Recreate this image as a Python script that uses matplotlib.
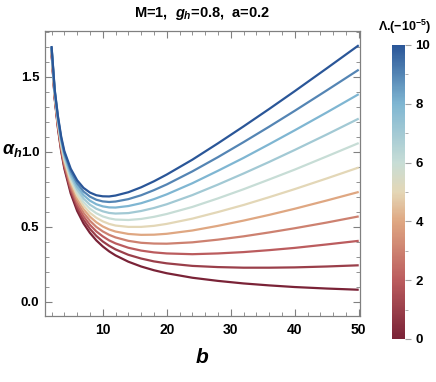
import matplotlib
matplotlib.use("Agg")
import matplotlib.pyplot as plt
from matplotlib.colors import LinearSegmentedColormap, Normalize
from matplotlib.cm import ScalarMappable
from matplotlib.ticker import MultipleLocator, FormatStrFormatter

# impact parameter b
b = [2, 2.5, 3, 3.5, 4, 5, 6, 7, 8, 9, 10, 11, 12, 14, 16, 18, 20, 24, 28, 32, 36, 40, 45, 50]

# alpha_h for Lambda = 0 ... 10 (x 10^-5)
alpha_lam0 = [1.660, 1.352, 1.158, 1.005, 0.888, 0.722, 0.606, 0.522, 0.459, 0.409, 0.369, 0.336, 0.309, 0.267, 0.235, 0.210, 0.190, 0.160, 0.139, 0.122, 0.109, 0.098, 0.088, 0.080]
alpha_lam1 = [1.665, 1.358, 1.166, 1.015, 0.900, 0.739, 0.626, 0.546, 0.486, 0.439, 0.402, 0.373, 0.349, 0.313, 0.288, 0.269, 0.256, 0.239, 0.231, 0.227, 0.227, 0.229, 0.235, 0.243]
alpha_lam2 = [1.669, 1.364, 1.174, 1.025, 0.911, 0.755, 0.647, 0.569, 0.513, 0.469, 0.436, 0.409, 0.389, 0.360, 0.341, 0.329, 0.322, 0.317, 0.322, 0.331, 0.344, 0.359, 0.382, 0.406]
alpha_lam3 = [1.674, 1.371, 1.182, 1.034, 0.923, 0.772, 0.667, 0.593, 0.540, 0.499, 0.469, 0.446, 0.429, 0.406, 0.393, 0.388, 0.387, 0.396, 0.414, 0.436, 0.462, 0.490, 0.528, 0.569]
alpha_lam4 = [1.678, 1.377, 1.190, 1.044, 0.935, 0.788, 0.688, 0.617, 0.567, 0.530, 0.502, 0.482, 0.468, 0.452, 0.446, 0.447, 0.453, 0.475, 0.506, 0.541, 0.579, 0.620, 0.675, 0.732]
alpha_lam5 = [1.683, 1.383, 1.198, 1.054, 0.947, 0.805, 0.708, 0.640, 0.593, 0.560, 0.536, 0.519, 0.508, 0.499, 0.499, 0.506, 0.519, 0.554, 0.598, 0.645, 0.697, 0.751, 0.822, 0.895]
alpha_lam6 = [1.687, 1.389, 1.206, 1.064, 0.958, 0.821, 0.728, 0.664, 0.620, 0.590, 0.569, 0.556, 0.548, 0.545, 0.552, 0.566, 0.585, 0.632, 0.689, 0.750, 0.815, 0.881, 0.969, 1.058]
alpha_lam7 = [1.692, 1.395, 1.214, 1.074, 0.970, 0.838, 0.749, 0.688, 0.647, 0.620, 0.603, 0.592, 0.588, 0.591, 0.605, 0.625, 0.650, 0.711, 0.781, 0.855, 0.932, 1.012, 1.115, 1.221]
alpha_lam8 = [1.696, 1.402, 1.222, 1.083, 0.982, 0.854, 0.769, 0.711, 0.674, 0.650, 0.636, 0.629, 0.628, 0.638, 0.657, 0.684, 0.716, 0.790, 0.873, 0.959, 1.050, 1.143, 1.262, 1.384]
alpha_lam9 = [1.701, 1.408, 1.230, 1.093, 0.993, 0.871, 0.790, 0.735, 0.701, 0.680, 0.669, 0.665, 0.668, 0.684, 0.710, 0.744, 0.782, 0.869, 0.964, 1.064, 1.167, 1.273, 1.409, 1.547]
alpha_lam10 = [1.705, 1.414, 1.238, 1.103, 1.005, 0.887, 0.810, 0.759, 0.728, 0.710, 0.703, 0.702, 0.708, 0.730, 0.763, 0.803, 0.848, 0.947, 1.056, 1.169, 1.285, 1.404, 1.556, 1.710]

lam_values = [0, 1, 2, 3, 4, 5, 6, 7, 8, 9, 10]
curves = [alpha_lam0, alpha_lam1, alpha_lam2, alpha_lam3, alpha_lam4, alpha_lam5,
          alpha_lam6, alpha_lam7, alpha_lam8, alpha_lam9, alpha_lam10]

plt.rcParams["font.family"] = ["Liberation Sans", "DejaVu Sans"]
plt.rcParams["font.weight"] = "bold"
plt.rcParams["mathtext.fontset"] = "custom"
plt.rcParams["mathtext.it"] = "Liberation Sans:italic:bold"
plt.rcParams["mathtext.rm"] = "Liberation Sans:bold"
plt.rcParams["mathtext.bf"] = "Liberation Sans:bold"

# red-blue tones colour map
cmap = LinearSegmentedColormap.from_list("redbluetones", [
    (0.0, "#7a2337"),
    (0.2, "#bb5c5e"),
    (0.4, "#dfa782"),
    (0.5, "#e4d7b6"),
    (0.6, "#c7ddd6"),
    (0.8, "#7fb6d2"),
    (1.0, "#2a5698"),
])
norm = Normalize(vmin=0, vmax=10)

fig = plt.figure(figsize=(4.36, 3.82), dpi=100)
ax = fig.add_axes([0.1032, 0.1736, 0.7225, 0.7452])

for lam, vals in zip(lam_values, curves):
    ax.plot(b, vals, color=cmap(norm(lam)), lw=1.6, solid_capstyle="butt")

ax.set_xlim(0.98, 50.2)
ax.set_ylim(-0.093, 1.805)
ax.xaxis.set_major_locator(MultipleLocator(10))
ax.xaxis.set_minor_locator(MultipleLocator(2))
ax.yaxis.set_major_locator(MultipleLocator(0.5))
ax.yaxis.set_minor_locator(MultipleLocator(0.1))
ax.yaxis.set_major_formatter(FormatStrFormatter("%.1f"))
ax.tick_params(which="both", direction="in", top=True, right=True, color="#808080",
               labelsize=10, pad=5)
ax.tick_params(axis="y", labelsize=9.5, pad=4)
ax.tick_params(which="major", length=5, width=0.8)
ax.tick_params(which="minor", length=3, width=0.6)
for sp in ax.spines.values():
    sp.set_color("#808080")
    sp.set_linewidth(0.9)

ax.set_xlabel("$b$", fontsize=15, labelpad=8)
fig.text(0.005, 0.607, r"$\alpha_h$", fontsize=13, ha="left", va="center")
ax.set_title("M=1,  $g_h$=0.8,  a=0.2", fontsize=10.5, fontweight="bold", pad=10)

cax = fig.add_axes([0.899, 0.1126, 0.0298, 0.7696])
sm = ScalarMappable(norm=norm, cmap=cmap)
cb = fig.colorbar(sm, cax=cax, ticks=[0, 2, 4, 6, 8, 10])
cb.outline.set_visible(False)
cb.ax.yaxis.set_minor_locator(MultipleLocator(1))
cb.ax.tick_params(which="both", color="#a0a0a0", labelsize=9.5)
cb.ax.tick_params(which="major", length=4)
cb.ax.tick_params(which="minor", length=2)
fig.text(0.99, 0.93, "Λ.(−10$^{-5}$)", ha="right", va="center", fontsize=9)

fig.savefig("out.png", dpi=100)
